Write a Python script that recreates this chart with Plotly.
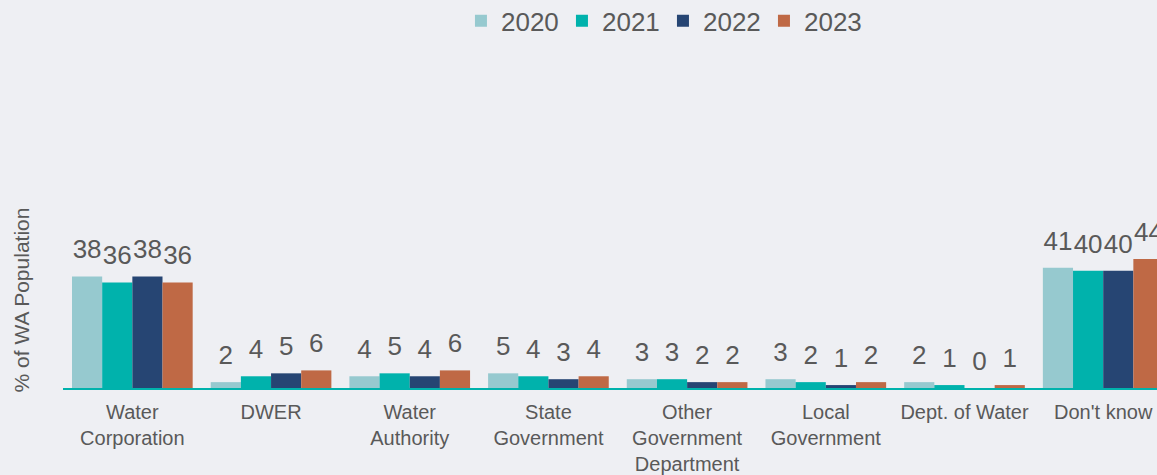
import plotly.graph_objects as go

categories = ["Water<br>Corporation", "DWER", "Water<br>Authority", "State<br>Government",
              "Other<br>Government<br>Department", "Local<br>Government", "Dept. of Water", "Don't know"]
years = ["2020", "2021", "2022", "2023"]
v2020 = [38, 2, 4, 5, 3, 3, 2, 41]
v2021 = [36, 4, 5, 4, 3, 2, 1, 40]
v2022 = [38, 5, 4, 3, 2, 1, 0, 40]
v2023 = [36, 6, 6, 4, 2, 2, 1, 44]
series = [v2020, v2021, v2022, v2023]
colors = ["#96C9CF", "#00B2AC", "#264573", "#BF6945"]

FONT = "Liberation Sans, Arial, sans-serif"
TXT = "#595959"
BG = "#EEEFF3"

fig = go.Figure()
for yr, vals, col in zip(years, series, colors):
    fig.add_trace(go.Bar(x=categories, y=vals, name=yr, marker=dict(color=col, line=dict(width=0)),
                         offsetgroup=yr, hoverinfo="skip"))
for yr, vals, col in zip(years, series, colors):
    fig.add_trace(go.Scatter(x=categories, y=vals, mode="markers+text", text=[str(v) for v in vals],
                             textposition="top center", offsetgroup=yr,
                             marker=dict(size=17, color="rgba(0,0,0,0)"),
                             textfont=dict(family=FONT, size=26, color=TXT),
                             showlegend=False, hoverinfo="skip", cliponaxis=False))

fig.update_layout(
    width=1157, height=475,
    paper_bgcolor=BG, plot_bgcolor=BG,
    barmode="group", bargap=0.13, bargroupgap=0,
    scattermode="group", scattergap=0.13,
    margin=dict(l=63, r=0, t=212, b=87),
    font=dict(family=FONT, color=TXT),
    legend=dict(orientation="h", xref="container", yref="container", x=0.573, y=0.956,
                xanchor="center", yanchor="middle", font=dict(size=26, color=TXT),
                entrywidth=56, entrywidthmode="pixels",
                bgcolor="rgba(0,0,0,0)", itemclick=False),
    xaxis=dict(range=[-0.5, 7.388], showgrid=False, zeroline=False, showline=True,
               linecolor="#00B2AC", linewidth=2, ticks="outside", ticklen=5, automargin=False,
               tickcolor="rgba(0,0,0,0)", tickfont=dict(size=20, color=TXT), fixedrange=True),
    yaxis=dict(range=[0, 60], showgrid=False, zeroline=False, showline=False,
               showticklabels=False, ticks="", automargin=False,
               title=dict(text="% of WA Population", font=dict(size=21, color=TXT), standoff=26),
               fixedrange=True),
)

fig.write_html("out.html", config={"displayModeBar": False},
               post_script="document.body.style.margin='0';document.body.style.overflow='hidden';")
